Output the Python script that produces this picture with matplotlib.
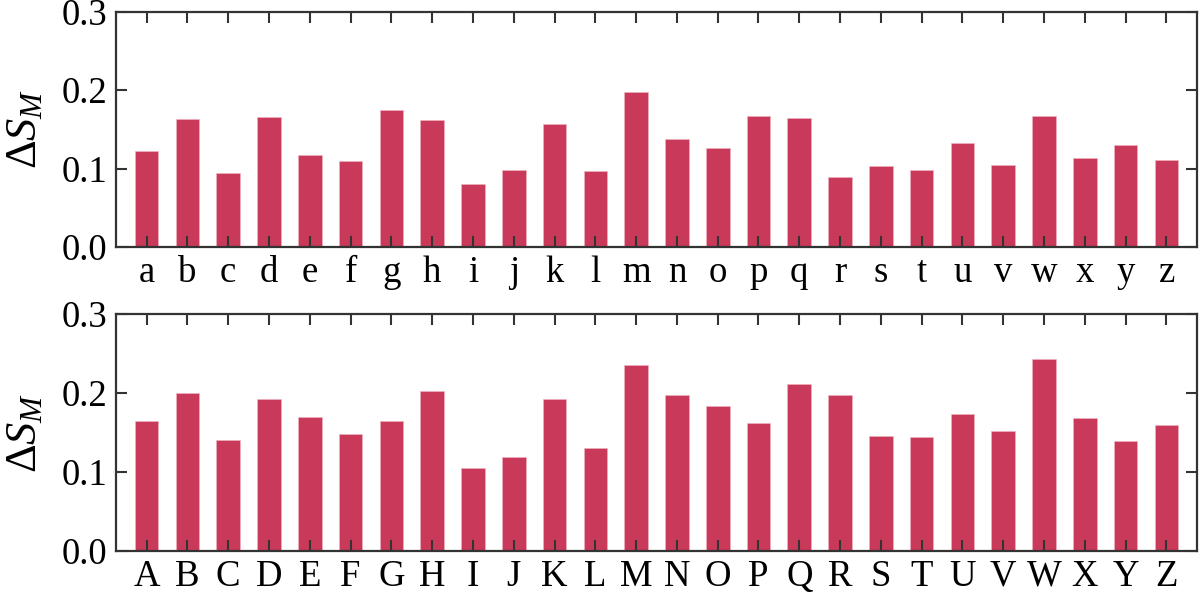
import matplotlib
matplotlib.use("Agg")
import matplotlib.pyplot as plt
import numpy as np

lower_labels = list("abcdefghijklmnopqrstuvwxyz")
lower_values = [0.123, 0.163, 0.094, 0.166, 0.117, 0.110, 0.175, 0.162, 0.080, 0.098,
                0.157, 0.097, 0.198, 0.138, 0.126, 0.167, 0.165, 0.089, 0.103, 0.098,
                0.133, 0.105, 0.167, 0.114, 0.130, 0.111]
upper_labels = list("ABCDEFGHIJKLMNOPQRSTUVWXYZ")
upper_values = [0.164, 0.200, 0.141, 0.192, 0.170, 0.148, 0.165, 0.203, 0.105, 0.119,
                0.192, 0.130, 0.236, 0.197, 0.184, 0.162, 0.211, 0.197, 0.145, 0.144,
                0.174, 0.152, 0.243, 0.168, 0.139, 0.160]
y_ticks = [0.0, 0.1, 0.2, 0.3]
y_label = r"$\Delta S_M$"

plt.rcParams['font.family'] = ['Liberation Serif', 'DejaVu Serif']
plt.rcParams['mathtext.fontset'] = 'custom'
plt.rcParams['mathtext.rm'] = 'Liberation Serif'
plt.rcParams['mathtext.it'] = 'Liberation Serif:italic'

bar_color = '#C8395A'
spine_color = '#333333'

fig = plt.figure(figsize=(12, 5.99), dpi=100)
ax1 = fig.add_axes([0.0967, 0.5876, 0.9008, 0.3929])
ax2 = fig.add_axes([0.0967, 0.0801, 0.9008, 0.3957])

for ax, labels, values in [(ax1, lower_labels, lower_values), (ax2, upper_labels, upper_values)]:
    x = np.arange(len(labels))
    ax.bar(x, values, width=0.58, color=bar_color, edgecolor='#F2B5C2', linewidth=0.4)
    ax.set_xlim(-0.75, len(labels) - 0.25)
    ax.set_ylim(0, 0.3)
    ax.set_xticks(x)
    ax.set_xticklabels(labels)
    ax.set_yticks(y_ticks)
    ax.set_yticklabels([f"{v:.1f}" for v in y_ticks])
    ax.tick_params(direction='in', top=True, right=True, length=8, width=1.5,
                   color=spine_color, labelsize=26.5, labelright=False, labeltop=False)
    ax.tick_params(axis='x', pad=6)
    ax.tick_params(axis='y', pad=6)
    for s in ax.spines.values():
        s.set_linewidth(1.6)
        s.set_color(spine_color)
    ax.set_ylabel(y_label, fontsize=32)
    ax.yaxis.set_label_coords(-0.066, 0.5)

fig.savefig("out.png", dpi=100)
